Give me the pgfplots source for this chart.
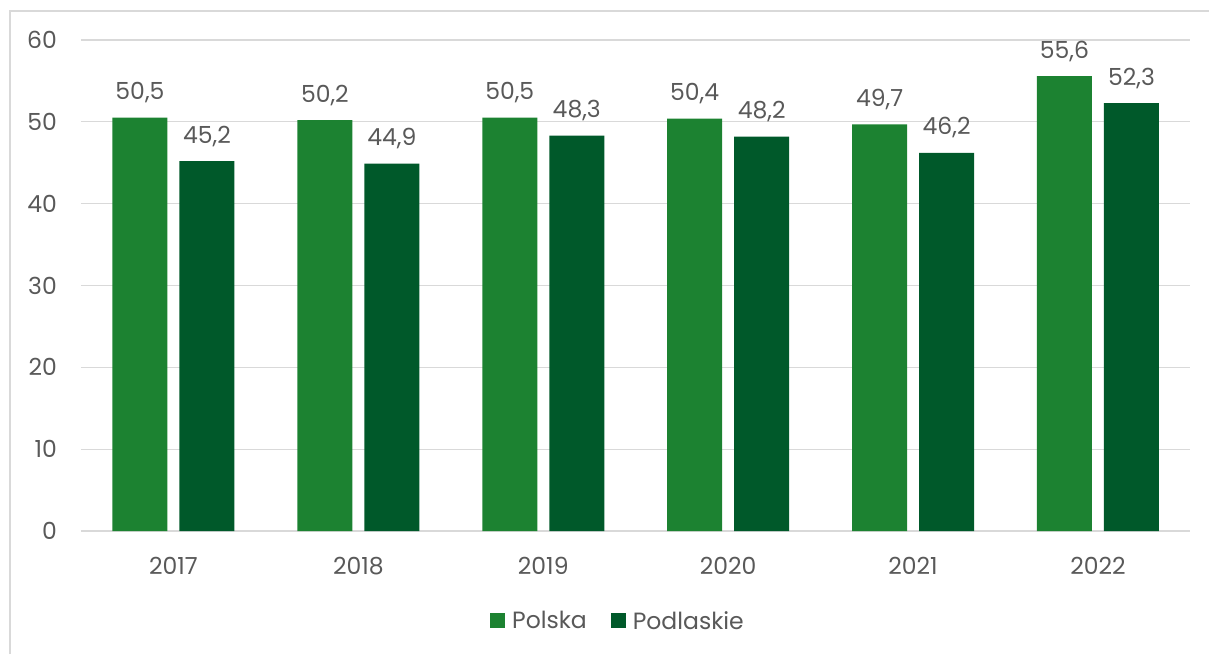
\documentclass[border=0pt]{standalone}
\usepackage{pgfplots}
\pgfplotsset{compat=1.18}
\usepackage{fontspec}
\setmainfont{Poppins}
\definecolor{polska}{HTML}{1C8231}
\definecolor{podl}{HTML}{00592A}
\definecolor{txt}{HTML}{595959}
\definecolor{gridc}{HTML}{D9D9D9}
\begin{document}
\begin{tikzpicture}[x=1pt,y=1pt]
\path[use as bounding box] (-81,-123) rectangle (1128,531);
\draw[gridc, line width=1.3pt] (-71,-123) -- (-71,520) -- (1128,520);
\begin{axis}[
  at={(0,0)}, anchor=south west,
  scale only axis, width=1109.5pt, height=491pt,
  ybar=12pt, bar width=55pt,
  xmin=-0.5, xmax=5.5, ymin=0, ymax=60,
  xtick=data, xticklabels={2017,2018,2019,2020,2021,2022},
  ytick={0,10,...,60},
  major tick length=0pt,
  axis line style={draw=none},
  ymajorgrids, major grid style={gridc, line width=1.3pt},
  /pgf/number format/assume math mode=true,
  tick label style={font=\fontsize{23.5}{28}\selectfont, text=txt},
  yticklabel style={inner sep=0pt, xshift=-24pt},
  xticklabel style={inner sep=0pt, yshift=-26pt},
  nodes near coords,
  nodes near coords style={font=\fontsize{23.5}{28}\selectfont, text=txt, anchor=base, inner sep=0pt, yshift=18pt,
    /pgf/number format/.cd, use comma, fixed, fixed zerofill, precision=1, assume math mode=true},
  every axis plot post/.append style={legend image code/.code={\fill[##1, draw=none] (0pt,-7.5pt) rectangle (15pt,7.5pt);}},
  legend columns=2,
  legend style={draw=none, at={(0.484,-0.183)}, anchor=center, font=\fontsize{23.5}{28}\selectfont, text=txt,
    /tikz/every odd column/.append style={column sep=5pt},
    /tikz/every even column/.append style={column sep=22pt}},
]
\addplot[fill=polska, draw=none] coordinates {(0,50.5) (1,50.2) (2,50.5) (3,50.4) (4,49.7) (5,55.6)};
\addplot[fill=podl, draw=none] coordinates {(0,45.2) (1,44.9) (2,48.3) (3,48.2) (4,46.2) (5,52.3)};
\legend{Polska, Podlaskie}
\end{axis}
\end{tikzpicture}
\end{document}
